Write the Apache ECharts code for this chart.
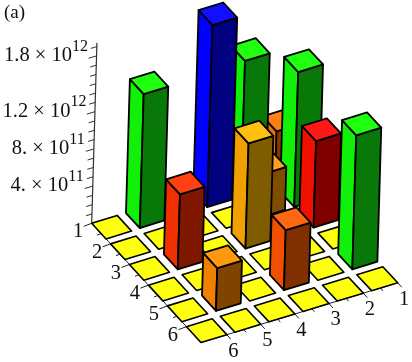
<!DOCTYPE html>
<html><head><meta charset="utf-8">
<style>html,body{margin:0;padding:0;background:#fff}#c{width:412px;height:362px}</style>
<script src="https://cdn.jsdelivr.net/npm/echarts@6/dist/echarts.min.js"></script>
</head><body><div id="c"></div>
<script>
// ---- data ----
const rowLabels = [1, 2, 3, 4, 5, 6];
const colLabels = [1, 2, 3, 4, 5, 6];
const row1 = [5.9e11, 1.46e12, 1.957e12, 0, 1.44e12, 0];
const row2 = [1.45e12, 4.6e11, 0, 0, 0, 0];
const row3 = [9.3e11, 0, 1.13e12, 0, 8.06e11, 0];
const row4 = [0, 0, 0, 0, 0, 0];
const row5 = [1.44e12, 0, 6.45e11, 0, 4.6e11, 0];
const row6 = [0, 0, 0, 0, 0, 0];
const zTickLabels = [[4e11, '4. \u00d7 10', '11'], [8e11, '8. \u00d7 10', '11'], [1.2e12, '1.2 \u00d7 10', '12'], [1.8e12, '1.8 \u00d7 10', '12']];
const zTicks = [1e11,2e11,3e11,4e11,5e11,6e11,7e11,8e11,9e11,1e12,1.1e12,1.2e12,1.3e12,1.4e12,1.5e12,1.6e12,1.7e12,1.8e12,1.9e12];
const zAxisMax = 1.94e12;

// ---- style ----
const rows = [row1, row2, row3, row4, row5, row6];
const faceColors = {
  '0': ['#ffff10', '#ffff10', '#ffff10'],
  '1,3': ['#0000ff', '#000080', '#1010ff'],
  '1,5': ['#10f008', '#087808', '#20ff10'],
  '1,2': ['#10f008', '#087808', '#20ff10'],
  '2,1': ['#10f008', '#087808', '#20ff10'],
  '5,1': ['#10f008', '#087808', '#20ff10'],
  '3,1': ['#f01000', '#800000', '#ff1818'],
  '3,3': ['#f0a000', '#805c00', '#ffc010'],
  '3,5': ['#f03000', '#801800', '#ff4010'],
  '5,3': ['#f05000', '#803000', '#ff6810'],
  '5,5': ['#f08000', '#804400', '#ff9a10'],
  '2,2': ['#f09000', '#804c00', '#ffa020'],
  '1,1': ['#f07000', '#803c00', '#ff8010']
};
const CELL = 0.38, BAR = 0.365;
const SERIF = '"Liberation Serif", serif';
const INK = '#111';

// floor projection: unit square to the four outer corners of the floor
const cT = [286, 163], cR = [397.7, 282.7], cB = [201, 342.5], cL = [91.7, 223.3];
const TILT = 0.029;
function makeHomography(p0, p1, p2, p3) {
  const dx1 = p1[0]-p2[0], dx2 = p3[0]-p2[0], sx = p0[0]-p1[0]+p2[0]-p3[0];
  const dy1 = p1[1]-p2[1], dy2 = p3[1]-p2[1], sy = p0[1]-p1[1]+p2[1]-p3[1];
  const den = dx1*dy2-dx2*dy1;
  const g = (sx*dy2-dx2*sy)/den, h = (dx1*sy-sx*dy1)/den;
  return [p1[0]-p0[0]+g*p1[0], p3[0]-p0[0]+h*p3[0], p0[0],
          p1[1]-p0[1]+g*p1[1], p3[1]-p0[1]+h*p3[1], p0[1], g, h];
}
const H = makeHomography(cT, cR, cB, cL);
const span = 5 + 2*CELL, origin = 1 - CELL;
function floorPt(p, q) {
  const s = (p-origin)/span, t = (q-origin)/span;
  const w = H[6]*s + H[7]*t + 1;
  return [(H[0]*s + H[1]*t + H[2])/w, (H[3]*s + H[4]*t + H[5])/w];
}
function zPx(api, z) { return api.coord([0, 0])[1] - api.coord([0, z])[1]; }
function lift(pt, h) { return [pt[0] + TILT*h, pt[1] - h]; }

// bars, painted back to front
const barData = [];
rows.forEach((r, i) => r.forEach((v, j) => barData.push([rowLabels[i], v, colLabels[j]])));
barData.sort((a, b) => (a[1] > 0) - (b[1] > 0) || (a[0] + a[2]) - (b[0] + b[2]));

function renderBar(params, api) {
  const p = api.value(0), v = api.value(1), q = api.value(2);
  const colors = v > 0 ? faceColors[p + ',' + q] : faceColors['0'];
  const c = v > 0 ? BAR : CELL;
  const h = zPx(api, v);
  const l = floorPt(p-c, q+c), f = floorPt(p+c, q+c), r = floorPt(p+c, q-c), b = floorPt(p-c, q-c);
  const lt = lift(l, h), ft = lift(f, h), rt = lift(r, h), bt = lift(b, h);
  const edge = {stroke: '#000', lineWidth: v > 0 ? 1.8 : 1.6, lineJoin: 'round'};
  const poly = (pts, fill) => ({type: 'polygon', shape: {points: pts}, style: Object.assign({fill: fill}, edge)});
  const children = [];
  if (v > 0) {
    children.push(poly([l, f, ft, lt], colors[0]));
    children.push(poly([f, r, rt, ft], colors[1]));
  }
  children.push(poly([lt, ft, rt, bt], colors[2]));
  return {type: 'group', children: children};
}

// axes
const line = (a, b, w, c) => ({type: 'line', shape: {x1: a[0], y1: a[1], x2: b[0], y2: b[1]}, style: {stroke: c || '#222', lineWidth: w}});
const txt = (x, y, s, size, align) => ({type: 'text', style: {x: x, y: y, text: s, fill: INK, font: size + 'px ' + SERIF, align: align || 'center', verticalAlign: 'middle'}});

function renderAxes(params, api) {
  const out = [];
  const L = floorPt(origin, 6+CELL), B = floorPt(6+CELL, 6+CELL), R = floorPt(6+CELL, origin);
  out.push(line(L, B, 1), line(B, R, 1));
  out.push(line(L, lift(L, zPx(api, zAxisMax)), 1.2, '#333'));
  rowLabels.forEach(n => {
    const a = floorPt(n-CELL, 6+CELL);
    out.push(line(a, [a[0]-8, a[1]+3], 1));
    out.push(txt(a[0]-13.5, a[1]+8.8, String(n), 20.5));
    if (n < 6) { const m = floorPt(n+0.12, 6+CELL); out.push(line(m, [m[0]-4, m[1]+1.5], 1)); }
  });
  colLabels.forEach(n => {
    const a = floorPt(6+CELL, n-CELL);
    out.push(line(a, [a[0]+4, a[1]+4.5], 1));
    out.push(txt(a[0]+6.5, a[1]+16.5, String(n), 20.5));
    if (n < 6) { const m = floorPt(6+CELL, n+0.12); out.push(line(m, [m[0]+2.5, m[1]+3], 1)); }
  });
  zTicks.forEach(z => {
    const a = lift(L, zPx(api, z));
    const major = zTickLabels.some(t => t[0] === z);
    out.push(line(a, [a[0]-(major ? 8 : 6), a[1]+(major ? 2.4 : 1.8)], 1, '#333'));
  });
  zTickLabels.forEach(t => {
    const a = lift(L, zPx(api, t[0]));
    const xe = a[0] - 24.5;
    out.push(txt(xe, a[1], t[1], 20.5, 'right'));
    out.push(txt(xe, a[1] - 9.5, t[2], 16, 'left'));
  });
  return {type: 'group', children: out};
}

const chart = echarts.init(document.getElementById('c'), null, {renderer: 'canvas'});
chart.setOption({
  animation: false,
  backgroundColor: '#fff',
  grid: {left: 0, top: 38, width: 412, height: 186},
  xAxis: {type: 'value', min: 0, max: 7, show: false},
  yAxis: {type: 'value', min: 0, max: 2e12, show: false},
  graphic: [{type: 'text', left: 4, top: 4, style: {text: '(a)', fill: INK, font: '19px ' + SERIF}}],
  series: [
    {type: 'custom', coordinateSystem: 'cartesian2d', clip: false, z: 1, silent: true,
     data: [[0, 0, 0]], encode: {x: 0, y: 1}, renderItem: renderAxes},
    {type: 'custom', coordinateSystem: 'cartesian2d', clip: false, z: 2, silent: true,
     data: barData, encode: {x: 0, y: 1}, renderItem: renderBar}
  ]
});
</script></body></html>
